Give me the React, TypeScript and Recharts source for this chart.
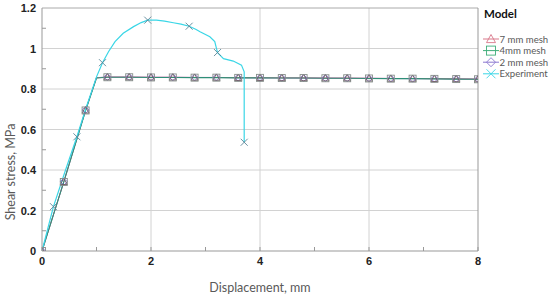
import React from "react"
import { CartesianGrid, Line, LineChart, ReferenceLine, XAxis, YAxis } from "recharts"

// model runs: displacement (mm) and shear stress (MPa)
const modelX = [0, 0.4, 0.8, 1.0, 1.2, 1.6, 2.0, 2.4, 2.8, 3.2, 3.6, 4.0, 4.4, 4.8, 5.2, 5.6, 6.0, 6.4, 6.8, 7.2, 7.6, 8.0]
const modelMarked = [true, true, true, false, true, true, true, true, true, true, true, true, true, true, true, true, true, true, true, true, true, true]
const mesh7 = [0, 0.342, 0.695, 0.855, 0.859, 0.859, 0.858, 0.858, 0.857, 0.857, 0.856, 0.856, 0.855, 0.855, 0.854, 0.854, 0.853, 0.852, 0.852, 0.851, 0.85, 0.849]
const mesh4 = [0, 0.341, 0.694, 0.854, 0.858, 0.858, 0.857, 0.857, 0.856, 0.856, 0.855, 0.855, 0.854, 0.854, 0.853, 0.853, 0.852, 0.851, 0.851, 0.85, 0.849, 0.848]
const mesh2 = [0, 0.342, 0.696, 0.856, 0.859, 0.859, 0.858, 0.858, 0.857, 0.857, 0.856, 0.855, 0.855, 0.854, 0.854, 0.853, 0.853, 0.852, 0.851, 0.851, 0.85, 0.849]

// experiment curve
const expX = [0, 0.21, 0.42, 0.64, 0.8, 1.0, 1.11, 1.22, 1.34, 1.49, 1.68, 1.82, 1.94, 2.1, 2.25, 2.41, 2.55, 2.7, 2.82, 2.9, 3.08, 3.17, 3.22, 3.33, 3.51, 3.66, 3.71, 3.71]
const expY = [0, 0.219, 0.39, 0.564, 0.7, 0.86, 0.93, 0.984, 1.034, 1.075, 1.108, 1.128, 1.14, 1.14, 1.135, 1.127, 1.12, 1.11, 1.095, 1.083, 1.058, 1.034, 0.98, 0.95, 0.938, 0.918, 0.885, 0.537]
const expMarked = [false, true, false, true, false, false, true, false, false, false, false, false, true, false, false, false, false, true, false, false, false, false, true, false, false, false, false, true]

const xTicks = [0, 1, 2, 3, 4, 5, 6, 7, 8]
const xLabeled = ["0", "2", "4", "6", "8"]
const yTicks = [0, 0.1, 0.2, 0.3, 0.4, 0.5, 0.6, 0.7, 0.8, 0.9, 1.0, 1.1, 1.2]
const yLabels: Record<string, string> = { "0.0": "0", "0.2": "0.2", "0.4": "0.4", "0.6": "0.6", "0.8": "0.8", "1.0": "1", "1.2": "1.2" }
const gridY = [0.2, 0.4, 0.6, 0.8, 1.0]
const gridX = [2, 4, 6]

const legendItems = [
  { name: "7 mm mesh", color: "#d9788a", shape: "triangle" },
  { name: "4mm mesh", color: "#3fae7a", shape: "square" },
  { name: "2 mm mesh", color: "#8a78d0", shape: "diamond" },
  { name: "Experiment", color: "#3ad6e6", shape: "cross" },
]

const modelData = modelX.map((x, i) => ({ x, m7: mesh7[i], m4: mesh4[i], m2: mesh2[i], mark: modelMarked[i] }))
const expData = expX.map((x, i) => ({ x, y: expY[i], mark: expMarked[i] }))

function Marker({ shape, cx, cy, color, r = 3.5 }: { shape: string; cx: number; cy: number; color: string; r?: number }) {
  if (shape === "triangle")
    return <polygon points={`${cx},${cy - r} ${cx + r},${cy + r * 0.8} ${cx - r},${cy + r * 0.8}`} fill="none" stroke={color} strokeWidth={0.9} />
  if (shape === "square")
    return <rect x={cx - r} y={cy - r} width={r * 2} height={r * 2} fill="none" stroke={color} strokeWidth={0.9} />
  if (shape === "diamond")
    return <polygon points={`${cx},${cy - r} ${cx + r},${cy} ${cx},${cy + r} ${cx - r},${cy}`} fill="none" stroke={color} strokeWidth={0.9} />
  return (
    <g stroke={color} strokeWidth={0.9}>
      <line x1={cx - r} y1={cy - r} x2={cx + r} y2={cy + r} />
      <line x1={cx - r} y1={cy + r} x2={cx + r} y2={cy - r} />
    </g>
  )
}

const makeDot = (shape: string, color: string) => (props: any) => {
  const { cx, cy, payload, index } = props
  if (!payload.mark || cx == null) return <g key={index} />
  return <g key={index}><Marker shape={shape} cx={cx} cy={cy} color={color} /></g>
}

const XTick = (props: any) => {
  const { x, y, payload } = props
  const label = String(payload.value)
  return (
    <g>
      <line x1={x} y1={y} x2={x} y2={y - 4} stroke="#999" />
      {xLabeled.includes(label) && (
        <text x={x} y={y + 14} textAnchor="middle" fontFamily="Liberation Sans" fontWeight="bold" fontSize={11} fill="#222">
          {label}
        </text>
      )}
    </g>
  )
}

const YTick = (props: any) => {
  const { x, y, payload } = props
  const label = yLabels[Number(payload.value).toFixed(1)]
  if (label)
    return (
      <text x={x - 6} y={y + 4} textAnchor="end" fontFamily="Liberation Sans" fontWeight="bold" fontSize={11} fill="#222">
        {label}
      </text>
    )
  return <line x1={x} y1={y} x2={x + 4} y2={y} stroke="#999" />
}

function ChartLegend() {
  return (
    <svg width={68} height={85} style={{ position: "absolute", left: 482, top: 4 }}>
      <text x={2} y={14} fontFamily="Lato" fontWeight="bold" fontSize={11.5} fill="#111">
        Model
      </text>
      {legendItems.map((it, i) => {
        const cy = 35 + i * 11.6
        return (
          <g key={it.name}>
            <line x1={1} y1={cy} x2={17} y2={cy} stroke={it.color} strokeWidth={1} />
            <Marker shape={it.shape} cx={9} cy={cy} color={it.color} r={4.5} />
            <text x={17.5} y={cy + 3.5} fontFamily="Lato" fontSize={9.6} fill="#595959">
              {it.name}
            </text>
          </g>
        )
      })}
    </svg>
  )
}

export default function App() {
  return (
    <div style={{ position: "absolute", left: 0, top: 0, width: 550, height: 298, background: "#fff" }}>
      <LineChart width={550} height={298} margin={{ top: 8, right: 72, bottom: 0, left: 0 }}>
        <XAxis
          type="number"
          dataKey="x"
          domain={[0, 8]}
          ticks={xTicks}
          interval={0}
          allowDataOverflow
          height={47}
          tickSize={0}
          tickMargin={0}
          tickLine={false}
          tick={<XTick />}
          stroke="#999"
          label={{ value: "Displacement, mm", position: "insideBottom", offset: 6, fontFamily: "Lato", fontSize: 12.5, fill: "#595959" }}
        />
        <YAxis
          type="number"
          domain={[0, 1.2]}
          ticks={yTicks}
          interval={0}
          allowDataOverflow
          width={42}
          tickSize={0}
          tickMargin={0}
          tickLine={false}
          tick={<YTick />}
          stroke="#999"
          label={{
            content: () => (
              <text x={10} y={172} transform="rotate(-90 10 172)" textAnchor="middle" dominantBaseline="central" fontFamily="Lato" fontSize={12.5} fill="#595959">
                Shear stress, MPa
              </text>
            ),
          }}
        />
        <CartesianGrid horizontalValues={gridY} verticalValues={gridX} stroke="#d2d2d2" />
        <ReferenceLine y={1.2} stroke="#aaa" ifOverflow="visible" />
        <ReferenceLine x={8} stroke="#999" ifOverflow="visible" />
        <Line data={modelData} dataKey="m2" type="linear" stroke="#8a78d0" strokeWidth={1} dot={makeDot("diamond", "#7a6ad0")} isAnimationActive={false} />
        <Line data={modelData} dataKey="m7" type="linear" stroke="#d9788a" strokeWidth={1} dot={makeDot("triangle", "#6e5a60")} isAnimationActive={false} />
        <Line data={modelData} dataKey="m4" type="linear" stroke="#2f8f78" strokeWidth={1.1} dot={makeDot("square", "#858d8a")} isAnimationActive={false} />
        <Line data={expData} dataKey="y" type="linear" stroke="#3ad6e6" strokeWidth={1.2} dot={makeDot("cross", "#5a8596")} isAnimationActive={false} />
      </LineChart>
      <ChartLegend />
    </div>
  )
}
